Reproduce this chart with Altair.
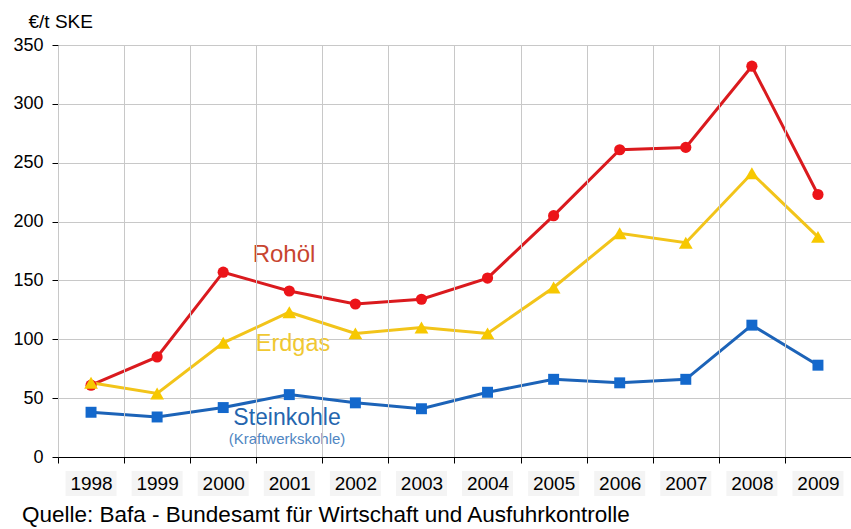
import altair as alt
import pandas as pd

# Import prices for energy sources in Germany, EUR per tonne of coal equivalent
years = ["1998", "1999", "2000", "2001", "2002", "2003", "2004", "2005",
         "2006", "2007", "2008", "2009"]
rohoel = [61, 85, 157, 141, 130, 134, 152, 205, 261, 263, 332, 223]
erdgas = [63, 54, 97, 123, 105, 110, 105, 144, 190, 182, 241, 187]
steinkohle = [38, 34, 42, 53, 46, 41, 55, 66, 63, 66, 112, 78]

series_names = ["Rohöl", "Erdgas", "Steinkohle"]
line_colors = ["#DA1A1E", "#F2C41A", "#1C63B8"]
point_colors = ["#EC1419", "#F7C800", "#1368CC"]
shapes = ["circle", "triangle-up", "square"]
marker_sizes = [125, 190, 120]

rows = []
for name, vals in zip(series_names, [rohoel, erdgas, steinkohle]):
    for yr, v in zip(years, vals):
        rows.append({"Jahr": yr, "Preis": v, "Serie": name})
df = pd.DataFrame(rows)

FONT = "Liberation Sans"

x_enc = alt.X(
    "Jahr:O",
    sort=years,
    scale=alt.Scale(paddingInner=0, paddingOuter=0),
    axis=alt.Axis(
        title=None, labelAngle=0, tickBand="extent", grid=True,
        gridColor="#C8C8C8", gridWidth=1, domainColor="#000000",
        tickColor="#000000", tickSize=6, labelFontSize=19,
        labelColor="#000000", labelPadding=11, labelFont=FONT, zindex=1,
    ),
)
y_enc = alt.Y(
    "Preis:Q",
    scale=alt.Scale(domain=[0, 350]),
    axis=alt.Axis(
        values=[0, 50, 100, 150, 200, 250, 300, 350],
        title="€/t SKE", titleAngle=0, titleAlign="left",
        titleBaseline="alphabetic", titleX=-30, titleY=-18,
        titleFontSize=19, titleFontWeight="normal", titleFont=FONT,
        titleColor="#000000",
        gridColor="#C8C8C8", gridWidth=1, domainColor="#000000",
        tickColor="#000000", tickSize=6, labelFontSize=18,
        labelColor="#000000", labelPadding=9, labelFont=FONT,
    ),
)

color_line = alt.Color("Serie:N", scale=alt.Scale(domain=series_names, range=line_colors), legend=None)

# faint boxes behind the year labels
label_df = pd.DataFrame({"Jahr": years})
label_boxes = alt.Chart(label_df).mark_bar(width=51, color="#F4F4F4").encode(
    x=x_enc,
    y=alt.value(426),
    y2=alt.value(451),
)

lines = alt.Chart(df).mark_line(strokeWidth=3).encode(
    x=x_enc, y=y_enc, color=color_line, detail="Serie:N"
)

# one marker layer per series, each with its own symbol
point_layers = [
    alt.Chart(df[df["Serie"] == name]).mark_point(
        filled=True, opacity=1, shape=shp, size=sz, color=col
    ).encode(x=x_enc, y=y_enc)
    for name, shp, sz, col in zip(series_names, shapes, marker_sizes, point_colors)
]

def label(text, x, y, color, size):
    return alt.Chart(pd.DataFrame({"t": [text]})).mark_text(
        font=FONT, fontSize=size, color=color, align="center", baseline="middle"
    ).encode(text="t:N", x=alt.value(x), y=alt.value(y))

labels = (
    label("Rohöl", 226, 210, "#C8452F", 24)
    + label("Erdgas", 235, 299, "#F0C832", 23.5)
    + label("Steinkohle", 229, 373, "#2465AE", 23)
    + label("(Kraftwerkskohle)", 229, 394, "#4F86C2", 15)
)

source = alt.Chart(pd.DataFrame({"t": ["Quelle: Bafa - Bundesamt für Wirtschaft und Ausfuhrkontrolle"]})).mark_text(
    font=FONT, fontSize=22.5, color="#000000", align="left", baseline="alphabetic"
).encode(text="t:N", x=alt.value(-36), y=alt.value(477))

chart = (
    alt.layer(label_boxes, lines, *point_layers, labels, source)
    .properties(
        width=793, height=412,
        autosize=alt.AutoSizeParams(type="none"),
        padding={"left": 58, "top": 45, "right": 0, "bottom": 72},
        background="#FFFFFF",
    )
    .configure_view(stroke=None)
)

chart.save("out.html", embed_options={"renderer": "svg", "actions": False})
